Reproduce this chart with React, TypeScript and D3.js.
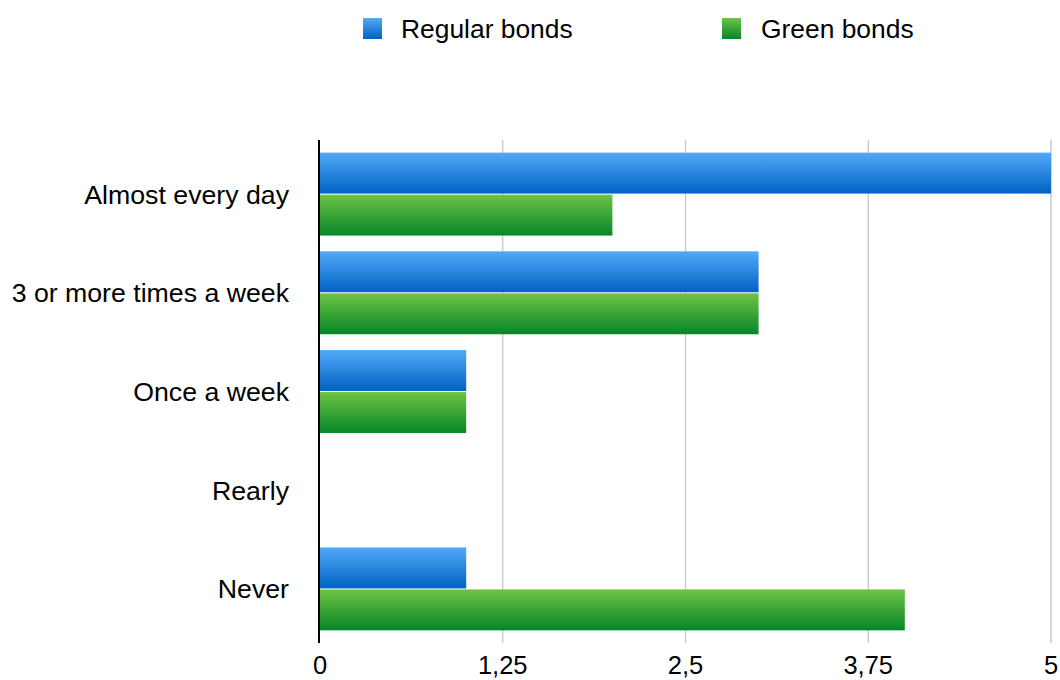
import React from 'react';
import * as d3 from 'd3';

const categories = ['Almost every day', '3 or more times a week', 'Once a week', 'Rearly', 'Never'];
const regularBonds = [5, 3, 1, 0, 1];
const greenBonds = [2, 3, 1, 0, 4];
const xTicks = [0, 1.25, 2.5, 3.75, 5];
const seriesNames = ['Regular bonds', 'Green bonds'];

const W = 1060;
const H = 680;
const FONT = '"Liberation Sans", Arial, Helvetica, sans-serif';

const fmt = (v: number) => String(v).replace('.', ',');

export default function App() {
  const x = d3.scaleLinear().domain([0, 5]).range([320, 1051]);
  const y = d3.scaleBand<string>()
    .domain(categories)
    .range([140, 643])
    .paddingInner(0.16)
    .paddingOuter(0.128);
  const sub = d3.scaleBand<string>()
    .domain(['regular', 'green'])
    .range([0, y.bandwidth()])
    .paddingInner(0.025);

  const series = [
    { key: 'regular', values: regularBonds, fill: 'url(#grad-blue)' },
    { key: 'green', values: greenBonds, fill: 'url(#grad-green)' },
  ];

  return (
    <div style={{ position: 'absolute', left: 0, top: 0 }}>
      <svg width={W} height={H} style={{ display: 'block', background: '#fff' }} fontFamily={FONT}>
        <defs>
          <linearGradient id="grad-blue" x1="0" y1="0" x2="0" y2="1">
            <stop offset="0%" stopColor="#52a9f8" />
            <stop offset="100%" stopColor="#0062c4" />
          </linearGradient>
          <linearGradient id="grad-green" x1="0" y1="0" x2="0" y2="1">
            <stop offset="0%" stopColor="#6ec345" />
            <stop offset="100%" stopColor="#058628" />
          </linearGradient>
        </defs>

        {/* legend */}
        <rect x={363} y={18} width={19} height={21} fill="url(#grad-blue)" />
        <text x={401} y={38} fontSize={26.4} fill="#000">{seriesNames[0]}</text>
        <rect x={722} y={18} width={19} height={21} fill="url(#grad-green)" />
        <text x={761} y={38} fontSize={26.4} fill="#000">{seriesNames[1]}</text>

        {/* grid */}
        {xTicks.slice(1).map((t, i) => (
          <line
            key={t}
            x1={x(t)} x2={x(t)} y1={140} y2={643}
            stroke={i === xTicks.length - 2 ? '#d6d6d6' : '#c4c4c4'}
            strokeWidth={i === xTicks.length - 2 ? 2 : 1.2}
          />
        ))}

        {/* bars */}
        {series.map(s => (
          <g key={s.key}>
            {categories.map((c, i) => {
              const v = s.values[i];
              if (!v) return null;
              return (
                <rect
                  key={c}
                  x={x(0)}
                  y={(y(c) ?? 0) + (sub(s.key) ?? 0)}
                  width={x(v) - x(0)}
                  height={sub.bandwidth()}
                  fill={s.fill}
                />
              );
            })}
          </g>
        ))}

        {/* y axis line */}
        <line x1={319} x2={319} y1={140} y2={643} stroke="#000" strokeWidth={2} />

        {/* category labels */}
        {categories.map(c => (
          <text
            key={c}
            x={289}
            y={(y(c) ?? 0) + y.bandwidth() / 2 + 9.5}
            textAnchor="end"
            fontSize={26.7}
            fill="#000"
          >
            {c}
          </text>
        ))}

        {/* x tick labels */}
        {xTicks.map(t => (
          <text key={t} x={x(t)} y={674} textAnchor="middle" fontSize={25.5} fill="#000">
            {fmt(t)}
          </text>
        ))}
      </svg>
    </div>
  );
}
